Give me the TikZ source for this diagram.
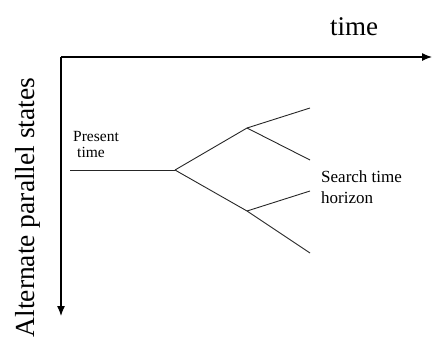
\documentclass[tikz,border=0pt]{standalone}
\usepackage{fontspec}
\setmainfont{Liberation Serif}
\usepackage{tikz}
\usetikzlibrary{arrows.meta}

\tikzset{
  axis/.style={line width=1.2pt, -{Latex[length=10pt,width=8pt]}},
  branch/.style={line width=0.9pt, black!85},
}

\begin{document}
\begin{tikzpicture}[x=1pt,y=-1pt]
  \useasboundingbox (0,0) rectangle (433,338);
  % axes
  \coordinate (origin) at (61,57);
  \coordinate (tend) at (432,57);
  \coordinate (send) at (61,316);
  \draw[axis] (origin) -- (tend);
  \draw[axis] (origin) -- (send);
  \node[anchor=base, inner sep=0pt, font=\fontsize{27}{30}\selectfont] (timelbl) at (354,35) {time};
  \node[anchor=base west, rotate=90, inner sep=0pt, font=\fontsize{27.5}{30}\selectfont] (stateslbl) at (34,337.5) {Alternate parallel states};
  % tree
  \coordinate (start) at (70,170);
  \coordinate (root) at (175,170);
  \coordinate (up) at (247,128);
  \coordinate (low) at (247,211);
  \coordinate (upa) at (310,108);
  \coordinate (upb) at (310,160);
  \coordinate (lowa) at (310,191);
  \coordinate (lowb) at (310,253);
  \draw[branch] (start) -- (root);
  \draw[branch] (root) -- (up);
  \draw[branch] (root) -- (low);
  \draw[branch] (up) -- (upa);
  \draw[branch] (up) -- (upb);
  \draw[branch] (low) -- (lowa);
  \draw[branch] (low) -- (lowb);
  \node[anchor=north west, align=left, inner sep=0pt, font=\fontsize{15.5}{16}\selectfont] (present) at (73,131) {Present\\\hspace{4pt}time};
  \node[anchor=north west, align=left, inner sep=0pt, font=\fontsize{17}{21}\selectfont] (horizon) at (321,170) {Search time\\horizon};
\end{tikzpicture}
\end{document}
